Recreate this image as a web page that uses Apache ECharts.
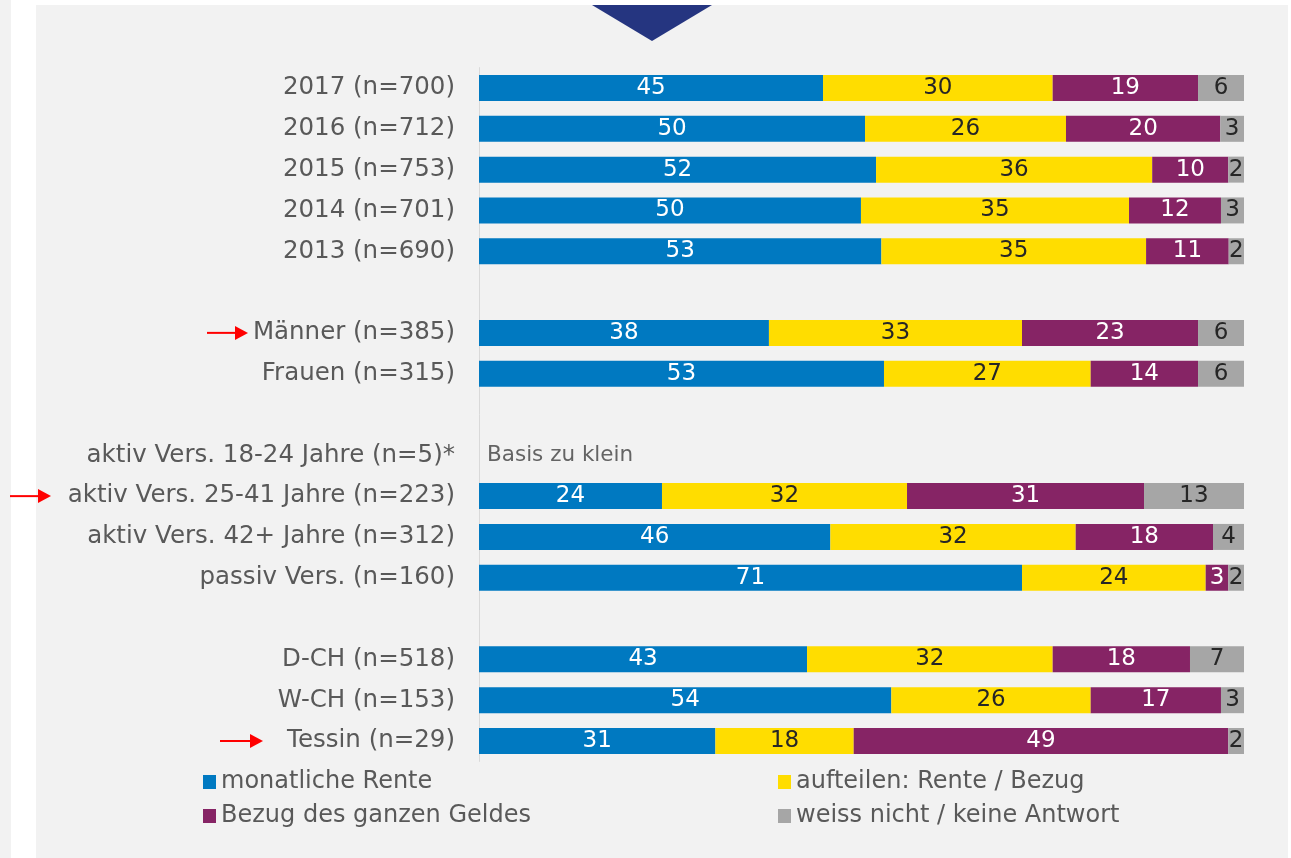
<!DOCTYPE html>
<html>
<head>
<meta charset="utf-8">
<script src="https://cdn.jsdelivr.net/npm/echarts@6/dist/echarts.min.js"></script>
<style>
  html, body { margin: 0; padding: 0; background: #fff; }
  #chart { width: 1291px; height: 858px; }
</style>
</head>
<body>
<div id="chart"></div>
<script>
// categories (blank strings = gaps between groups)
var cats = [
  '2017 (n=700)', '2016 (n=712)', '2015 (n=753)', '2014 (n=701)', '2013 (n=690)',
  ' ',
  'Männer (n=385)', 'Frauen (n=315)',
  '  ',
  'aktiv Vers. 18-24 Jahre (n=5)*', 'aktiv Vers. 25-41 Jahre (n=223)',
  'aktiv Vers. 42+ Jahre (n=312)', 'passiv Vers. (n=160)',
  '   ',
  'D-CH (n=518)', 'W-CH (n=153)', 'Tessin (n=29)'
]
var seriesNames = ['monatliche Rente', 'aufteilen: Rente / Bezug', 'Bezug des ganzen Geldes', 'weiss nicht / keine Antwort']

// percentages (labels show rounded values)
var rente   = [44.97, 50.46, 51.9, 49.93, 52.6, null, 37.9, 52.94, null, null, 23.92, 45.93, 70.98, null, 42.88, 53.9, 30.9]
var teilen  = [30.02, 26.27, 36.1, 35.04, 34.6, null, 33.08, 27.02, null, null, 32.03, 32.07, 24.01, null, 32.11, 26.06, 18.08]
var ganz    = [19.0, 20.17, 9.95, 12.02, 10.8, null, 23.01, 14.03, null, null, 30.98, 17.95, 2.96, null, 17.95, 17.03, 48.97]
var weiss   = [6.01, 3.1, 2.05, 3.01, 2.0, null, 6.01, 6.01, null, null, 13.07, 4.05, 2.05, null, 7.06, 3.01, 2.05]

var colors = ['#0079c1', '#ffdd00', '#862465', '#a6a6a6']
var labelColors = ['#ffffff', '#262626', '#ffffff', '#262626']
var values = [rente, teilen, ganz, weiss]

// rows marked with a red arrow, and arrow start/end x
var arrowRows = ['Männer (n=385)', 'aktiv Vers. 25-41 Jahre (n=223)', 'Tessin (n=29)']
var arrowX = [[207, 248], [10, 51], [220, 263]]

var smallBase = 'aktiv Vers. 18-24 Jahre (n=5)*'

var myChart = echarts.init(document.getElementById('chart'))

var series = values.map(function (d, i) {
  return {
    name: seriesNames[i],
    type: 'bar',
    stack: 'total',
    data: d,
    barWidth: 26,
    itemStyle: { color: colors[i] },
    label: {
      show: true,
      position: 'inside',
      color: labelColors[i],
      fontFamily: 'DejaVu Sans',
      fontSize: 23,
      formatter: function (p) { return Math.round(p.value) }
    }
  }
})
series.push({
  type: 'scatter',
  data: [[0, cats.indexOf(smallBase)]],
  symbolSize: 0,
  silent: true,
  label: {
    show: true,
    position: 'right',
    distance: 8,
    formatter: 'Basis zu klein',
    color: '#404040',
    fontFamily: 'DejaVu Sans',
    fontSize: 21.5
  }
})

var legendText = { color: '#595959', fontSize: 24, lineHeight: 24, fontFamily: 'DejaVu Sans' }

var option = {
  animation: false,
  textStyle: { fontFamily: 'DejaVu Sans' },
  graphic: [
    { type: 'rect', shape: { x: 0, y: 0, width: 11, height: 858 }, style: { fill: '#f2f2f2' }, z: -10 },
    { type: 'rect', shape: { x: 36, y: 5, width: 1252, height: 853 }, style: { fill: '#f2f2f2' }, z: -10 },
    { type: 'polygon', shape: { points: [[592, 5], [712, 5], [652, 41]] }, style: { fill: '#253580' }, z: -5 }
  ],
  legend: [
    {
      data: [seriesNames[0], seriesNames[2]],
      orient: 'vertical',
      left: 198,
      top: 765,
      icon: 'rect',
      itemWidth: 13,
      itemHeight: 14,
      itemGap: 10,
      textStyle: legendText
    },
    {
      data: [seriesNames[1], seriesNames[3]],
      orient: 'vertical',
      left: 773,
      top: 765,
      icon: 'rect',
      itemWidth: 13,
      itemHeight: 14,
      itemGap: 10,
      textStyle: legendText
    }
  ],
  grid: {
    left: 479,
    right: 47,
    top: 67.6,
    bottom: 96.6
  },
  xAxis: {
    type: 'value',
    min: 0,
    max: 100,
    show: false
  },
  yAxis: {
    type: 'category',
    data: cats,
    inverse: true,
    axisTick: { show: false },
    axisLine: { show: true, lineStyle: { color: '#d9d9d9', width: 1 } },
    axisLabel: {
      color: '#595959',
      fontSize: 24.5,
      margin: 24,
      fontFamily: 'DejaVu Sans'
    }
  },
  series: series
}
myChart.setOption(option)

// red arrows next to highlighted rows
var arrows = []
arrowRows.forEach(function (name, i) {
  var y = myChart.convertToPixel({ yAxisIndex: 0 }, name)
  var x0 = arrowX[i][0], x1 = arrowX[i][1]
  arrows.push({ type: 'line', shape: { x1: x0, y1: y, x2: x1 - 10, y2: y }, style: { stroke: '#ff0000', lineWidth: 2 }, z: 10 })
  arrows.push({ type: 'polygon', shape: { points: [[x1 - 13, y - 7], [x1, y], [x1 - 13, y + 7]] }, style: { fill: '#ff0000' }, z: 10 })
})
myChart.setOption({ graphic: option.graphic.concat(arrows) })

window.addEventListener('resize', function () {
  myChart.resize()
})
</script>
</body>
</html>
